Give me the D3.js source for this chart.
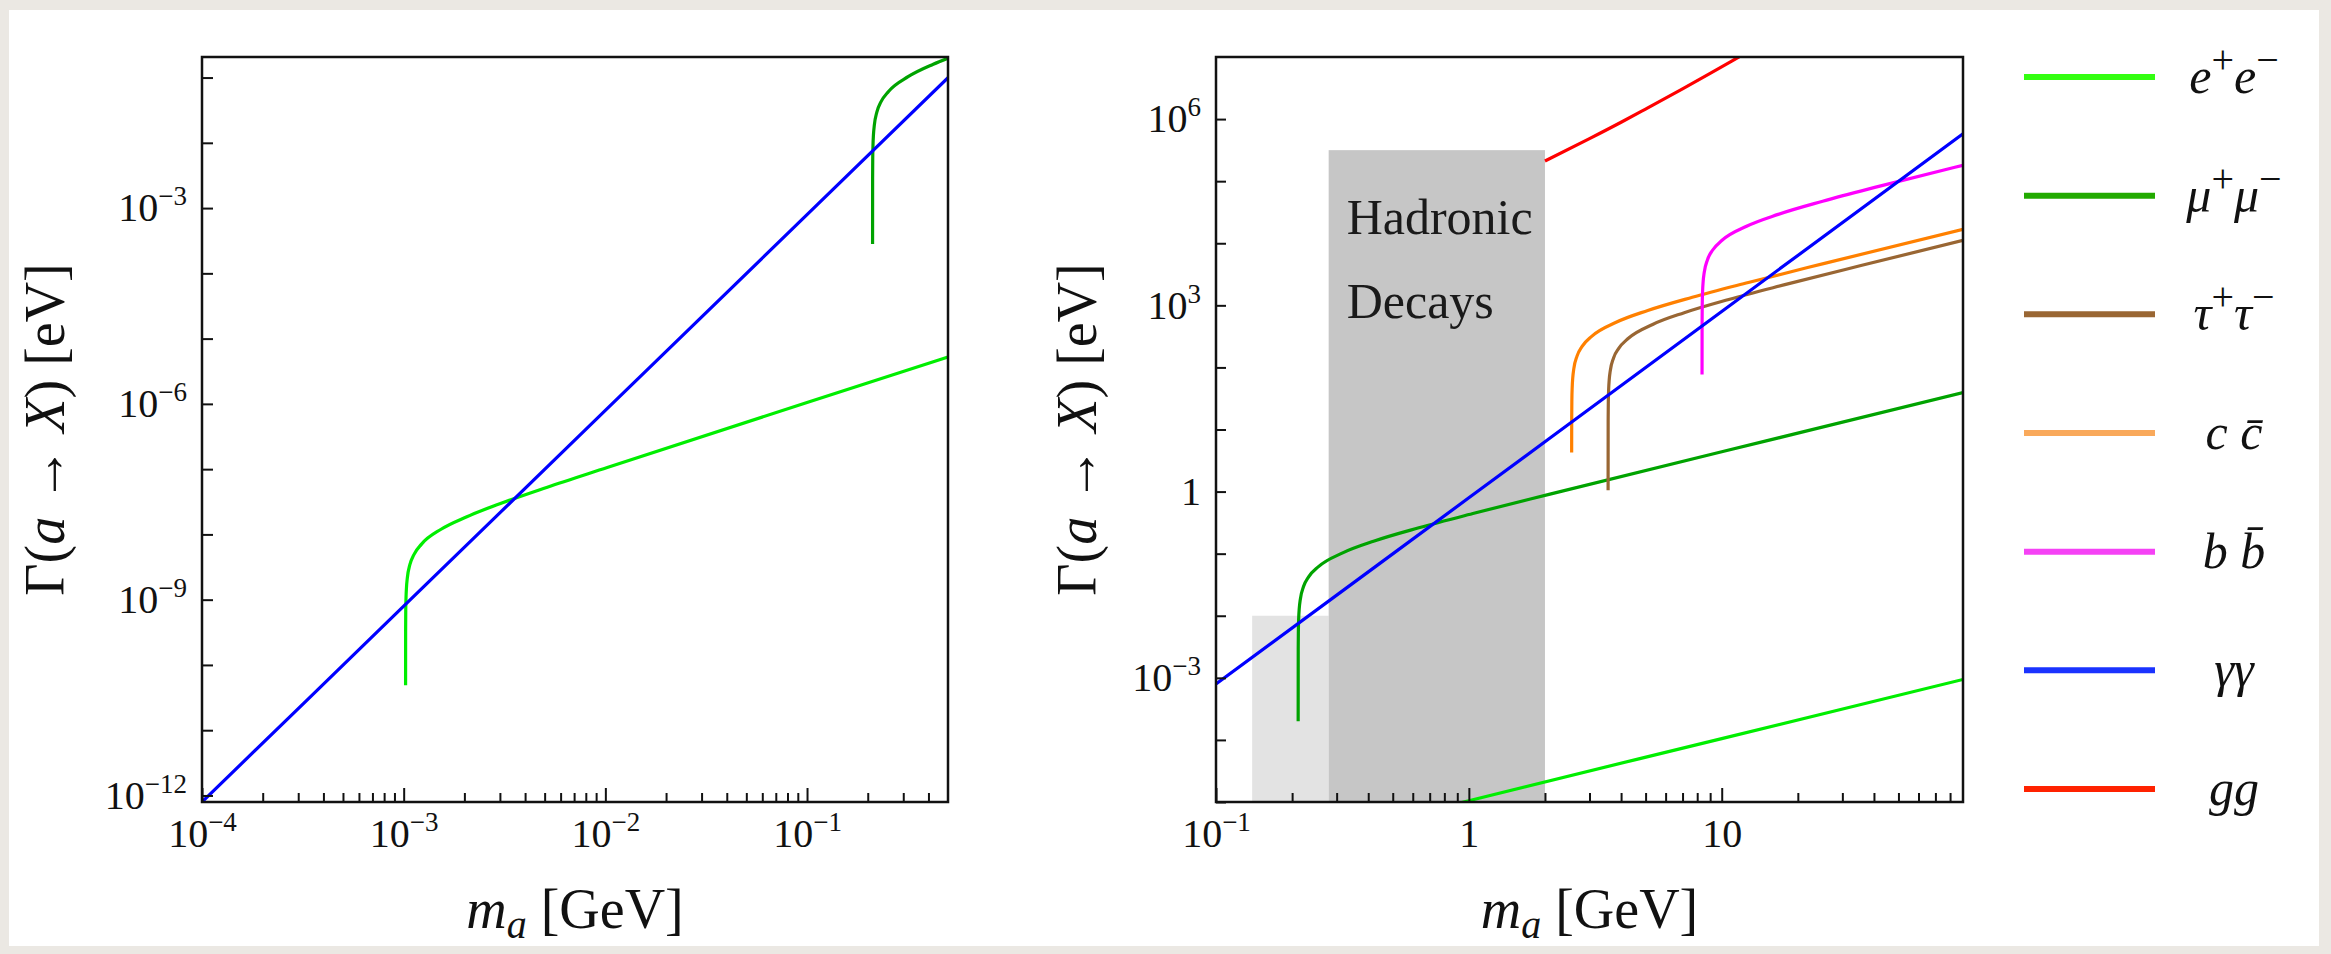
<!DOCTYPE html>
<html><head><meta charset="utf-8">
<script src="https://cdn.jsdelivr.net/npm/d3@7"></script>
<style>
html,body{margin:0;padding:0;background:#ebe8e3;}
svg{display:block;}
</style></head><body>
<svg id="chart" width="2331" height="954"></svg>
<script>
// ---------------- DATA (mass in GeV, width in eV) ----------------
// Left panel
const leftXDomain = [1e-4, 0.5];
const leftYDomain = [7.94e-13, 0.2065];
const eeMassLeft  = [1.022e-3, 1.0225e-3, 1.024e-3, 1.0271e-3, 1.0322e-3, 1.0424e-3, 1.0731e-3, 1.1242e-3, 1.2264e-3, 1.533e-3, 2.044e-3, 3.066e-3, 5.11e-3, 1.022e-2, 0.1, 0.5];
const eeWidthLeft = [4.90e-11, 3.39e-10, 6.78e-10, 1.07e-9, 1.52e-9, 2.15e-9, 3.43e-9, 4.91e-9, 7.10e-9, 1.20e-8, 1.85e-8, 3.03e-8, 5.25e-8, 1.06e-7, 1.05e-6, 5.24e-6];
const muMassLeft  = [0.21132, 0.21143, 0.21174, 0.21238, 0.21343, 0.21555, 0.22189, 0.23245, 0.25358, 0.31698, 0.42264, 0.5];
const muWidthLeft = [2.82e-4, 2.92e-3, 5.83e-3, 9.25e-3, 1.31e-2, 1.85e-2, 2.95e-2, 4.23e-2, 6.12e-2, 0.103, 0.160, 0.198];
const aaMassLeft  = [1e-4, 1e-3, 1e-2, 0.1, 0.5];
const aaWidthLeft = [7.94e-13, 7.94e-10, 7.94e-7, 7.94e-4, 0.0993];

// Right panel
const rightXDomain = [0.1, 90];
const rightYDomain = [1e-5, 1e7];
const eeMassRight  = [0.9, 1, 10, 90];
const eeWidthRight = [9.42e-6, 1.05e-5, 1.05e-4, 9.42e-4];
const muMassRight  = [0.21132, 0.21143, 0.21174, 0.21238, 0.21343, 0.21555, 0.22189, 0.23245, 0.25358, 0.31698, 0.42264, 0.63396, 1.0566, 2.1132, 21.132, 90];
const muWidthRight = [2.00e-4, 2.92e-3, 5.83e-3, 9.25e-3, 1.31e-2, 1.85e-2, 2.95e-2, 4.23e-2, 6.12e-2, 0.103, 0.160, 0.261, 0.452, 0.918, 9.23, 39.4];
const tauMass  = [3.5537, 3.5555, 3.5608, 3.5715, 3.5892, 3.6248, 3.7314, 3.9091, 4.2644, 5.3306, 7.1074, 10.661, 17.769, 35.537, 90];
const tauWidth = [1.05, 13.9, 27.8, 44.1, 62.4, 88.3, 141, 201, 292, 492, 762, 1245, 2153, 4375, 11120];
const charmMass  = [2.55, 2.5513, 2.5551, 2.5628, 2.5755, 2.601, 2.6775, 2.805, 3.06, 3.825, 5.1, 7.65, 12.75, 25.5, 90];
const charmWidth = [4.27, 15.1, 30.1, 47.8, 67.6, 95.7, 152, 218, 316, 533, 826, 1349, 2333, 4742, 16790];
const bottomMass  = [8.36, 8.3642, 8.3767, 8.4018, 8.4436, 8.5272, 8.778, 9.196, 10.032, 12.54, 16.72, 25.08, 41.8, 83.6, 90];
const bottomWidth = [76.9, 532, 1064, 1687, 2388, 3381, 5383, 7709, 11170, 18790, 29170, 47530, 82410, 167500, 180300];
const aaMassRight  = [0.1, 1, 10, 90];
const aaWidthRight = [7.94e-4, 0.794, 794, 5.78e5];
const gluonMass  = [2, 3, 4, 5, 7, 9, 11.67, 13];
const gluonWidth = [2.11e5, 4.84e5, 8.89e5, 1.45e6, 3.06e6, 5.43e6, 1.0e7, 1.29e7];

// Shaded regions: [mass from, mass to, width top]
const pionBand    = [0.139, 0.279, 0.01];
const hadronBand  = [0.279, 2.0, 3.16e5];
const bandText    = ["Hadronic", "Decays"];

// Ticks and labels
const leftXMajor  = [1e-4, 1e-3, 1e-2, 1e-1];
const leftXLabels = [["10","−4"],["10","−3"],["10","−2"],["10","−1"]];
const leftXMinor  = [2e-4,3e-4,4e-4,5e-4,6e-4,7e-4,8e-4,9e-4,2e-3,3e-3,4e-3,5e-3,6e-3,7e-3,8e-3,9e-3,2e-2,3e-2,4e-2,5e-2,6e-2,7e-2,8e-2,9e-2,0.2,0.3,0.4];
const leftYTicks  = [1e-12,1e-11,1e-10,1e-9,1e-8,1e-7,1e-6,1e-5,1e-4,1e-3,1e-2,1e-1];
const leftYLabelled = [1e-12, 1e-9, 1e-6, 1e-3];
const leftYLabels = [["10","−12"],["10","−9"],["10","−6"],["10","−3"]];

const rightXMajor  = [0.1, 1, 10];
const rightXLabels = [["10","−1"],["1",""],["10",""]];
const rightXMinor  = [0.2,0.3,0.4,0.5,0.6,0.7,0.8,0.9,2,3,4,5,6,7,8,9,20,30,40,50,60,70,80];
const rightYTicks  = [1e-5,1e-4,1e-3,1e-2,1e-1,1,10,100,1e3,1e4,1e5,1e6];
const rightYLabelled = [1e-3, 1, 1e3, 1e6];
const rightYLabels = [["10","−3"],["1",""],["10","3"],["10","6"]];

// Legend
const legendNames  = ["ee","mumu","tautau","cc","bb","aa","gg"];
const legendLabels = [
  [["e","i"],["+","s"],["e","i"],["−","s"]],
  [["μ","i"],["+","s"],["μ","i"],["−","s"]],
  [["τ","i"],["+","s"],["τ","i"],["−","s"]],
  [["c","i"],[" ","n"],["c\u0304","i"]],
  [["b","i"],[" ","n"],["b\u0304","i"]],
  [["γγ","i"]],
  [["gg","i"]]
];
const lineColors   = {ee:"#00ee00", mumu:"#00a300", tautau:"#996633", cc:"#ff8000", bb:"#ff00ff", aa:"#0000ff", gg:"#ff0000"};
const legendColors = ["#33ff11","#22aa00","#996633","#f9a95b","#f542f5","#1a33ff","#ff2200"];

// ---------------- DRAWING ----------------
const FONT = "'Liberation Serif','Times New Roman','DejaVu Serif',serif";
const svg = d3.select("#chart");
svg.append("rect").attr("x",9).attr("y",10).attr("width",2310).attr("height",936).attr("fill","#ffffff");
const defs = svg.append("defs");

function addSupLabel(textSel, parts, supSize, rise){
  textSel.text(null);
  textSel.append("tspan").text(parts[0]);
  if (parts[1]) textSel.append("tspan").attr("font-size", supSize).attr("dy", -rise).text(parts[1]);
}

function panel(cfg){
  const x = d3.scaleLog().domain(cfg.xDomain).range(cfg.xRange);
  const y = d3.scaleLog().domain(cfg.yDomain).range(cfg.yRange);
  const [x0,x1] = cfg.xRange, [yb,yt] = cfg.yRange;
  defs.append("clipPath").attr("id", cfg.id+"clip").append("rect")
    .attr("x", x0).attr("y", yt).attr("width", x1-x0).attr("height", yb-yt);
  const g = svg.append("g");
  const plot = g.append("g").attr("clip-path", `url(#${cfg.id}clip)`);
  (cfg.bands||[]).forEach(b=>{
    plot.append("rect").attr("x", x(b.v[0])).attr("width", x(b.v[1])-x(b.v[0]))
      .attr("y", y(b.v[2])).attr("height", yb - y(b.v[2])).attr("fill", b.color);
  });
  if (cfg.bandText){
    const b = cfg.bandText;
    const bx = x(b.band[0]) + 18, by = y(b.band[2]);
    b.lines.forEach((t,i)=>{
      g.append("text").attr("x", bx).attr("y", by + 84 + i*84).attr("font-family", FONT)
        .attr("font-size", 50).attr("fill","#1a1a1a").text(t);
    });
  }
  const line = d3.line().x(d=>x(d[0])).y(d=>y(d[1])).curve(d3.curveMonotoneX);
  cfg.series.forEach(s=>{
    plot.append("path").attr("d", line(d3.zip(s.m, s.w))).attr("fill","none")
      .attr("stroke", lineColors[s.key]).attr("stroke-width", 3.2).attr("stroke-linejoin","round");
  });

  // axes
  const styleAxis = a => { a.attr("font-family", FONT).attr("font-size", 40).select(".domain").remove();
    a.selectAll(".tick line").attr("stroke","#111").attr("stroke-width",2);
    a.selectAll(".tick text").attr("fill","#111"); };

  const xMin = g.append("g").attr("transform",`translate(0,${yb})`)
    .call(d3.axisBottom(x).tickValues(cfg.xMinor).tickSizeInner(-9).tickSizeOuter(0).tickFormat(()=>""));
  styleAxis(xMin);
  const xMaj = g.append("g").attr("transform",`translate(0,${yb})`)
    .call(d3.axisBottom(x).tickValues(cfg.xMajor).tickSizeInner(-14).tickSizeOuter(0).tickPadding(17).tickFormat(()=>""));
  styleAxis(xMaj);
  xMaj.selectAll(".tick text").each(function(d,i){ addSupLabel(d3.select(this), cfg.xLabels[i], 27, 16); });

  const yAx = g.append("g").attr("transform",`translate(${x0},0)`)
    .call(d3.axisLeft(y).tickValues(cfg.yTicks).tickSizeInner(-cfg.yTickLen).tickSizeOuter(0).tickPadding(15).tickFormat(()=>""));
  styleAxis(yAx);
  yAx.selectAll(".tick text").each(function(d){
    const k = cfg.yLabelled.findIndex(v=>Math.abs(Math.log10(v)-Math.log10(d))<1e-6);
    if (k>=0) addSupLabel(d3.select(this), cfg.yLabels[k], 27, 16);
  });

  // frame
  g.append("rect").attr("x", x0).attr("y", yt).attr("width", x1-x0).attr("height", yb-yt)
    .attr("fill","none").attr("stroke","#111").attr("stroke-width",2.5);

  // y title
  const yt1 = g.append("text").attr("transform",`translate(${cfg.yTitleX},${(yb+yt)/2}) rotate(-90)`)
    .attr("text-anchor","middle").attr("font-family",FONT).attr("font-size",56).attr("fill","#111");
  yt1.append("tspan").text("Γ(");
  yt1.append("tspan").attr("font-style","italic").text("a");
  yt1.append("tspan").text(" → ");
  yt1.append("tspan").attr("font-style","italic").text("X");
  yt1.append("tspan").text(") [eV]");
  // x title
  const xt = g.append("text").attr("x",(x0+x1)/2).attr("y",928).attr("text-anchor","middle")
    .attr("font-family",FONT).attr("font-size",56).attr("fill","#111");
  xt.append("tspan").attr("font-style","italic").text("m");
  xt.append("tspan").attr("font-style","italic").attr("font-size",40).attr("dy",10).text("a");
  xt.append("tspan").attr("dy",-10).text(" [GeV]");
}

panel({
  id:"L", xDomain:leftXDomain, yDomain:leftYDomain, xRange:[202,948], yRange:[802,57],
  series:[
    {key:"ee", m:eeMassLeft, w:eeWidthLeft},
    {key:"mumu", m:muMassLeft, w:muWidthLeft},
    {key:"aa", m:aaMassLeft, w:aaWidthLeft}
  ],
  xMajor:leftXMajor, xLabels:leftXLabels, xMinor:leftXMinor,
  yTicks:leftYTicks, yLabelled:leftYLabelled, yLabels:leftYLabels, yTickLen:11,
  yTitleX:64
});

panel({
  id:"R", xDomain:rightXDomain, yDomain:rightYDomain, xRange:[1216,1963], yRange:[802,57],
  bands:[{v:pionBand, color:"#e3e3e3"},{v:hadronBand, color:"#c6c6c6"}],
  bandText:{band:hadronBand, lines:bandText},
  series:[
    {key:"ee", m:eeMassRight, w:eeWidthRight},
    {key:"mumu", m:muMassRight, w:muWidthRight},
    {key:"tautau", m:tauMass, w:tauWidth},
    {key:"cc", m:charmMass, w:charmWidth},
    {key:"bb", m:bottomMass, w:bottomWidth},
    {key:"aa", m:aaMassRight, w:aaWidthRight},
    {key:"gg", m:gluonMass, w:gluonWidth}
  ],
  xMajor:rightXMajor, xLabels:rightXLabels, xMinor:rightXMinor,
  yTicks:rightYTicks, yLabelled:rightYLabelled, yLabels:rightYLabels, yTickLen:10,
  yTitleX:1096
});

// legend
const legY = d3.scalePoint().domain(legendNames).range([77, 789]);
const leg = svg.append("g");
legendNames.forEach((n,i)=>{
  const yy = legY(n);
  leg.append("line").attr("x1",2024).attr("x2",2155).attr("y1",yy).attr("y2",yy)
    .attr("stroke",legendColors[i]).attr("stroke-width",6);
  const t = leg.append("text").attr("x",2234).attr("y",yy+16).attr("text-anchor","middle")
    .attr("font-family",FONT).attr("font-size",50).attr("fill","#111");
  let up = false;
  legendLabels[i].forEach(([s,k])=>{
    const ts = t.append("tspan").text(s);
    if (k==="i") ts.attr("font-style","italic");
    if (k==="s"){ ts.attr("font-size",40).attr("dy", up? 0 : -20); up = true; }
    else if (up){ ts.attr("dy",20); up = false; }
  });
});
</script>
</body></html>
